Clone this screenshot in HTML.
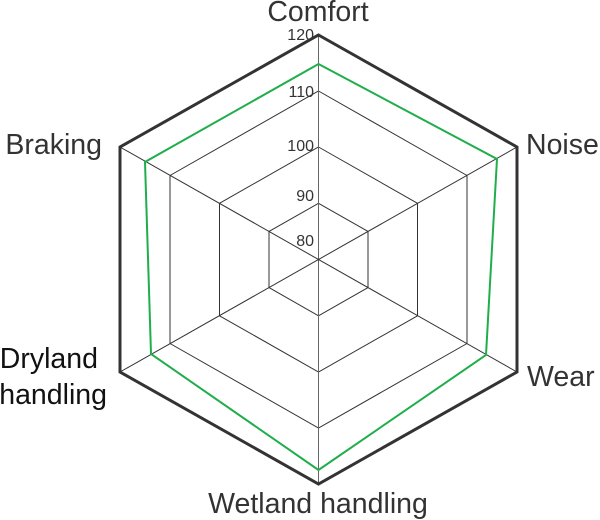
<!DOCTYPE html>
<html><head><style>body{margin:0;background:#fff}svg{display:block}</style></head><body>
<svg width="600" height="520" viewBox="0 0 600 520" xmlns="http://www.w3.org/2000/svg" font-family="Liberation Sans, sans-serif">
<g fill="none" stroke="#333" stroke-width="1">
<polygon points="318.5,203.3 368,231.4 368,287.6 318.5,315.8 269,287.6 269,231.4"/>
<polygon points="318.5,147 417.5,203.3 417.5,315.8 318.5,372 219.5,315.8 219.5,203.3"/>
<polygon points="318.5,91 467,175.5 467,343.5 318.5,428 170,343.5 170,175.5"/>
<line x1="318.5" y1="35" x2="318.5" y2="484" stroke="#666"/>
<line x1="120" y1="147" x2="517" y2="372"/>
<line x1="120" y1="372" x2="517" y2="147"/>
</g>
<polygon points="318.5,64 497,159 486,355 318.5,470 151,354 145,162" fill="none" stroke="#1fae4b" stroke-width="2"/>
<polygon points="318.5,35 517,147 517,372 318.5,484 120,372 120,147" fill="none" stroke="#333" stroke-width="3"/>
<g font-size="16" fill="#333" text-anchor="end">
<text x="314" y="40">120</text>
<text x="314" y="97">110</text>
<text x="314" y="151">100</text>
<text x="314" y="201">90</text>
<text x="314" y="246">80</text>
</g>
<g font-size="28.5" fill="#333">
<text x="318" y="21" text-anchor="middle">Comfort</text>
<text x="526" y="154">Noise</text>
<text x="527" y="386">Wear</text>
<text x="318" y="513" text-anchor="middle">Wetland handling</text>
<text x="102" y="154" text-anchor="end">Braking</text>
<text x="98" y="368" text-anchor="end" fill="#111">Dryland</text>
<text x="107" y="404" text-anchor="end" fill="#111">handling</text>
</g>
</svg>
</body></html>
